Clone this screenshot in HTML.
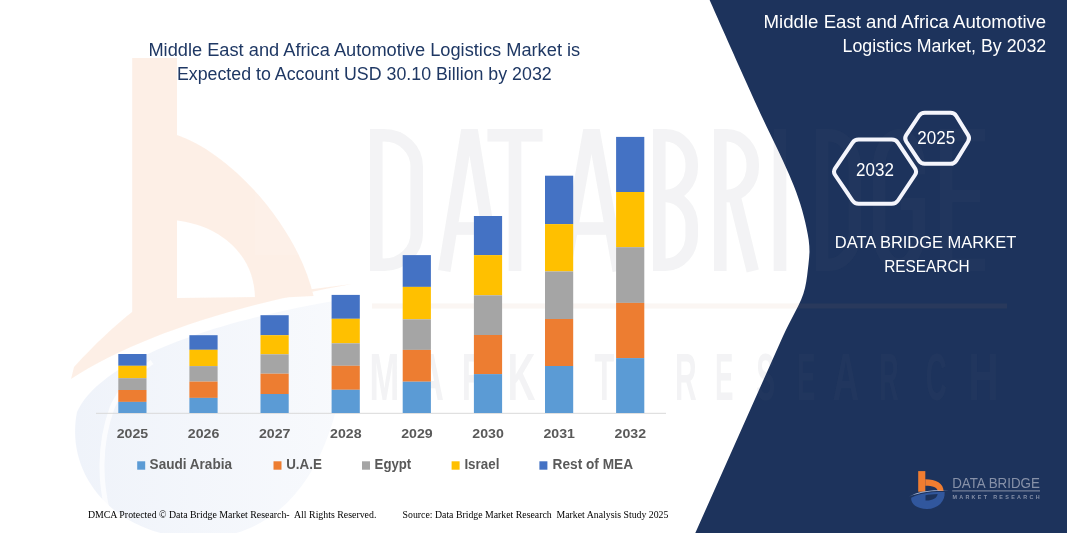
<!DOCTYPE html>
<html><head><meta charset="utf-8"><title>chart</title>
<style>
html,body{margin:0;padding:0;background:#fff;}
body{width:1067px;height:533px;overflow:hidden;font-family:"Liberation Sans",sans-serif;}
svg{display:block}
text{font-family:"Liberation Sans",sans-serif;}
.serif{font-family:"Liberation Serif",serif;}
</style></head><body>
<svg width="1067" height="533" viewBox="0 0 1067 533">
<defs>
<linearGradient id="wmblue" x1="0" y1="0" x2="1" y2="0"><stop offset="0" stop-color="#4472c4" stop-opacity="1"/><stop offset="0.35" stop-color="#4472c4" stop-opacity="0.8"/><stop offset="1" stop-color="#4472c4" stop-opacity="0.45"/></linearGradient>
<g id="bmark">
<rect x="8.2" y="1.1" width="7.1" height="20.6" fill="#f07d31"/>
<path d="M15.3 9.2 C 26 9.2 33.6 13.5 33.6 21 L27.6 21 C 27.6 17.5 22.5 15.7 15.3 15.7 Z" fill="#f07d31"/>
<path d="M-0.6 26.6 C 8 21 22 19.2 38.8 20.6 C 22 20.6 9 22.6 -0.6 26.6 Z" fill="#a9b7d6"/>
<path d="M1.2 27.8 C 8 23.6 20 21.8 34.6 22 C 35.5 31 28 39 17 39 C 7 39 0.5 34 1.2 27.8 Z M15.5 25.2 L15.5 30.5 C 22 30.8 27 28.5 27.6 24 C 23 24.2 19 24.6 15.5 25.2 Z" fill="#31579d" fill-rule="evenodd"/>
</g>
</defs>
<rect width="1067" height="533" fill="#ffffff"/>
<!-- WATERMARK-LEFT -->
<!-- navy panel -->
<path id="navy" d="M709.6 0 L712.3 6 L714.9 12 L717.6 18 L720.2 24 L722.9 30 L725.6 36 L728.2 42 L730.9 48 L733.6 54 L736.2 60 L738.9 66 L741.6 72 L744.3 78 L747.0 84 L749.7 90 L752.4 96 L755.1 102 L757.9 108 L760.6 114 L763.5 120 L766.3 126 L769.2 132 L772.1 138 L775.0 144 L777.9 150 L780.7 156 L783.5 162 L786.2 168 L788.9 174 L791.4 180 L793.9 186 L796.2 192 L798.3 198 L800.3 204 L802.1 210 L803.7 216 L805.2 222 L806.5 228 L807.7 234 L808.7 240 L809.3 246 L809.5 252 L809.1 258 L808.5 264 L807.8 270 L807.1 276 L806.2 282 L805.0 288 L803.3 294 L801.0 300 L798.2 306 L795.1 312 L792.0 318 L788.9 324 L785.9 330 L783.1 336 L781.3 340 L695.3 533 L1067 533 L1067 0 Z" fill="#1d335c"/>
<!-- WM-START -->
<g opacity="0.115" fill="#f07d31">
<path d="M132.2 58 H177 V312 L132.2 330 Z"/>
<path d="M177 135 C 228 152 296 222 313.6 296 L255 299 C 255 256 222 226 177 220.5 Z"/>
<path d="M71 379 L74 367 C 95 344 114 326 134.6 310 L177 298 L255 297 L313 289 L352 284 C 235 305 135 337 71 379 Z"/>
</g>
<g opacity="0.085">
<path d="M77 412 C 100 360 215 320 346 299 C 352 430 302 538 200 538 C 118 538 64 478 77 412 Z" fill="url(#wmblue)"/>
</g>
<path d="M110 520 C 99 484 99 444 112 408 C 120 389 136 373 152 362" stroke="#ffffff" stroke-width="5" fill="none" opacity="0.75"/>
<g opacity="0.075" fill="#5f6675" stroke="#5f6675">
<g fill="none" stroke-width="12.5" stroke-linejoin="miter" stroke-miterlimit="6">
<path d="M376.25 135.25 H384.4 A32.4 31.4 0 0 1 416.75 166.6 V233.4 A32.4 31.4 0 0 1 384.4 264.75 H376.25 Z"/>
<path d="M444.25 271 L466.5 135.25 L472.5 135.25 L494.75 271 M451.2 228.4 H487.8"/>
<path d="M487.5 135.25 H542.5 M515.0 135.25 V271"/>
<path d="M564.25 271 L588.5 135.25 L594.5 135.25 L618.75 271 M571.9 228.4 H611.1"/>
<path d="M659.25 196.0 V135.25 H665.8 A26.0 29.4 0 0 1 691.75 164.6 V166.6 A26.0 29.4 0 0 1 665.8 196.0 H659.25 V264.75 H665.8 A26.0 29.4 0 0 0 691.75 235.4 V225.4 A26.0 29.4 0 0 0 665.8 196.0"/>
<path d="M720.25 271 V135.25 H726.8 A26.0 29.4 0 0 1 752.75 164.6 V166.6 A26.0 29.4 0 0 1 726.8 196.0 H720.25 M734.5 196.0 L752.75 271"/>
<path d="M780.0 129 V271"/>
<path d="M822.25 135.25 H828.8 A26.0 31.4 0 0 1 854.75 166.6 V233.4 A26.0 31.4 0 0 1 828.8 264.75 H822.25 Z"/>
<path d="M918.75 174.6 V166.6 A19.8 31.4 0 0 0 899.0 135.25 A19.8 31.4 0 0 0 879.25 166.6 V233.4 A19.8 31.4 0 0 0 899.0 264.75 A19.8 31.4 0 0 0 918.75 233.4 V204.0 H901.0"/>
<path d="M985 135.25 H946.25 V264.75 H985 M946.25 196.0 H980"/>
</g>
<rect x="372" y="303.5" width="635" height="5" fill="#c98a5a" stroke="none"/>
<g stroke="none">
<text transform="translate(369.6,399.5) scale(3.577,6.6)" font-size="10" font-weight="700">M</text>
<text transform="translate(417.1,399.5) scale(3.726,6.6)" font-size="10" font-weight="700">A</text>
<text transform="translate(461.8,399.5) scale(3.312,6.6)" font-size="10" font-weight="700">R</text>
<text transform="translate(507.4,399.5) scale(3.876,6.6)" font-size="10" font-weight="700">K</text>
<text transform="translate(554.0,399.5) scale(3.030,6.6)" font-size="10" font-weight="700">E</text>
<text transform="translate(594.6,399.5) scale(3.226,6.6)" font-size="10" font-weight="700">T</text>
<text transform="translate(675.0,399.5) scale(2.997,6.6)" font-size="10" font-weight="700">R</text>
<text transform="translate(715.1,399.5) scale(2.763,6.6)" font-size="10" font-weight="700">E</text>
<text transform="translate(756.2,399.5) scale(2.838,6.6)" font-size="10" font-weight="700">S</text>
<text transform="translate(797.1,399.5) scale(2.763,6.6)" font-size="10" font-weight="700">E</text>
<text transform="translate(832.7,399.5) scale(3.636,6.6)" font-size="10" font-weight="700">A</text>
<text transform="translate(879.2,399.5) scale(2.681,6.6)" font-size="10" font-weight="700">R</text>
<text transform="translate(925.8,399.5) scale(2.905,6.6)" font-size="10" font-weight="700">C</text>
<text transform="translate(968.2,399.5) scale(4.201,6.6)" font-size="10" font-weight="700">H</text>
</g>
</g>
<!-- WM-END -->
<!-- axis -->
<rect x="96" y="412.8" width="570" height="1" fill="#d9d9d9"/>
<g>
<rect x="118.3" y="354.0" width="28.2" height="11.8" fill="#4472c4"/>
<rect x="118.3" y="365.8" width="28.2" height="12.4" fill="#ffc000"/>
<rect x="118.3" y="378.2" width="28.2" height="11.8" fill="#a5a5a5"/>
<rect x="118.3" y="390.0" width="28.2" height="11.9" fill="#ed7d31"/>
<rect x="118.3" y="401.9" width="28.2" height="11.1" fill="#5b9bd5"/>
<rect x="189.4" y="335.2" width="28.2" height="14.6" fill="#4472c4"/>
<rect x="189.4" y="349.8" width="28.2" height="16.3" fill="#ffc000"/>
<rect x="189.4" y="366.1" width="28.2" height="15.5" fill="#a5a5a5"/>
<rect x="189.4" y="381.6" width="28.2" height="16.3" fill="#ed7d31"/>
<rect x="189.4" y="397.9" width="28.2" height="15.1" fill="#5b9bd5"/>
<rect x="260.5" y="315.2" width="28.2" height="20.0" fill="#4472c4"/>
<rect x="260.5" y="335.2" width="28.2" height="19.1" fill="#ffc000"/>
<rect x="260.5" y="354.3" width="28.2" height="19.4" fill="#a5a5a5"/>
<rect x="260.5" y="373.7" width="28.2" height="20.3" fill="#ed7d31"/>
<rect x="260.5" y="394.0" width="28.2" height="19.0" fill="#5b9bd5"/>
<rect x="331.6" y="294.9" width="28.2" height="23.9" fill="#4472c4"/>
<rect x="331.6" y="318.8" width="28.2" height="24.5" fill="#ffc000"/>
<rect x="331.6" y="343.3" width="28.2" height="22.5" fill="#a5a5a5"/>
<rect x="331.6" y="365.8" width="28.2" height="24.0" fill="#ed7d31"/>
<rect x="331.6" y="389.8" width="28.2" height="23.2" fill="#5b9bd5"/>
<rect x="402.7" y="255.1" width="28.2" height="31.8" fill="#4472c4"/>
<rect x="402.7" y="286.9" width="28.2" height="32.4" fill="#ffc000"/>
<rect x="402.7" y="319.3" width="28.2" height="30.6" fill="#a5a5a5"/>
<rect x="402.7" y="349.9" width="28.2" height="31.8" fill="#ed7d31"/>
<rect x="402.7" y="381.7" width="28.2" height="31.3" fill="#5b9bd5"/>
<rect x="473.9" y="216.0" width="28.2" height="39.1" fill="#4472c4"/>
<rect x="473.9" y="255.1" width="28.2" height="40.2" fill="#ffc000"/>
<rect x="473.9" y="295.3" width="28.2" height="39.7" fill="#a5a5a5"/>
<rect x="473.9" y="335.0" width="28.2" height="39.1" fill="#ed7d31"/>
<rect x="473.9" y="374.1" width="28.2" height="38.9" fill="#5b9bd5"/>
<rect x="545.0" y="175.7" width="28.2" height="48.4" fill="#4472c4"/>
<rect x="545.0" y="224.1" width="28.2" height="47.3" fill="#ffc000"/>
<rect x="545.0" y="271.4" width="28.2" height="47.6" fill="#a5a5a5"/>
<rect x="545.0" y="319.0" width="28.2" height="47.0" fill="#ed7d31"/>
<rect x="545.0" y="366.0" width="28.2" height="47.0" fill="#5b9bd5"/>
<rect x="616.1" y="136.9" width="28.2" height="55.1" fill="#4472c4"/>
<rect x="616.1" y="192.0" width="28.2" height="55.2" fill="#ffc000"/>
<rect x="616.1" y="247.2" width="28.2" height="55.7" fill="#a5a5a5"/>
<rect x="616.1" y="302.9" width="28.2" height="55.2" fill="#ed7d31"/>
<rect x="616.1" y="358.1" width="28.2" height="54.9" fill="#5b9bd5"/>
</g>
<g font-size="13.5" font-weight="700" fill="#595959">
<text x="132.5" y="438.4" text-anchor="middle" textLength="31.5" lengthAdjust="spacingAndGlyphs">2025</text>
<text x="203.6" y="438.4" text-anchor="middle" textLength="31.5" lengthAdjust="spacingAndGlyphs">2026</text>
<text x="274.7" y="438.4" text-anchor="middle" textLength="31.5" lengthAdjust="spacingAndGlyphs">2027</text>
<text x="345.8" y="438.4" text-anchor="middle" textLength="31.5" lengthAdjust="spacingAndGlyphs">2028</text>
<text x="416.9" y="438.4" text-anchor="middle" textLength="31.5" lengthAdjust="spacingAndGlyphs">2029</text>
<text x="488.1" y="438.4" text-anchor="middle" textLength="31.5" lengthAdjust="spacingAndGlyphs">2030</text>
<text x="559.2" y="438.4" text-anchor="middle" textLength="31.5" lengthAdjust="spacingAndGlyphs">2031</text>
<text x="630.3" y="438.4" text-anchor="middle" textLength="31.5" lengthAdjust="spacingAndGlyphs">2032</text>
</g>
<g font-size="14" font-weight="700" fill="#595959">
<rect x="137.2" y="461.3" width="8" height="8.4" fill="#5b9bd5"/>
<text x="149.6" y="469.1" textLength="82.4" lengthAdjust="spacingAndGlyphs">Saudi Arabia</text>
<rect x="273.5" y="461.3" width="8" height="8.4" fill="#ed7d31"/>
<text x="286.2" y="469.1" textLength="35.7" lengthAdjust="spacingAndGlyphs">U.A.E</text>
<rect x="362.0" y="461.3" width="8" height="8.4" fill="#a5a5a5"/>
<text x="374.6" y="469.1" textLength="36.6" lengthAdjust="spacingAndGlyphs">Egypt</text>
<rect x="451.6" y="461.3" width="8" height="8.4" fill="#ffc000"/>
<text x="464.4" y="469.1" textLength="35.0" lengthAdjust="spacingAndGlyphs">Israel</text>
<rect x="539.4" y="461.3" width="8" height="8.4" fill="#4472c4"/>
<text x="552.6" y="469.1" textLength="80.4" lengthAdjust="spacingAndGlyphs">Rest of MEA</text>
</g>
<!-- titles -->
<g font-size="17.5" fill="#1f3864">
<text x="148.4" y="56.1" textLength="431.8" lengthAdjust="spacingAndGlyphs">Middle East and Africa Automotive Logistics Market is</text>
<text x="176.9" y="80.4" textLength="374.8" lengthAdjust="spacingAndGlyphs">Expected to Account USD 30.10 Billion by 2032</text>
</g>
<g font-size="17.5" fill="#ffffff">
<text x="763.6" y="27.6" textLength="282.6" lengthAdjust="spacingAndGlyphs">Middle East and Africa Automotive</text>
<text x="842.6" y="52" textLength="203.6" lengthAdjust="spacingAndGlyphs">Logistics Market, By 2032</text>
</g>
<g font-size="17" fill="#ffffff">
<text x="834.8" y="247.6" textLength="181.4" lengthAdjust="spacingAndGlyphs">DATA BRIDGE MARKET</text>
<text x="884.2" y="271.6" textLength="85.4" lengthAdjust="spacingAndGlyphs">RESEARCH</text>
</g>
<!-- hexagons -->
<g fill="none" stroke="#f4f5fc" stroke-width="4" stroke-linejoin="round">
<path d="M835.1 175.0 Q832.9 171.7 835.1 168.4 L852.4 142.9 Q854.6 139.6 858.6 139.6 L891.8 139.6 Q895.8 139.6 898.0 142.9 L915.0 168.4 Q917.2 171.7 915.0 175.0 L898.0 200.5 Q895.8 203.8 891.8 203.8 L858.6 203.8 Q854.6 203.8 852.4 200.5 Z"/>
<path d="M906.2 141.5 Q904.1 138.3 906.2 135.1 L918.9 116.0 Q921.0 112.8 924.8 112.8 L950.5 112.8 Q954.3 112.8 956.3 116.0 L968.1 135.1 Q970.1 138.3 968.1 141.5 L956.3 160.6 Q954.3 163.8 950.5 163.8 L924.8 163.8 Q921.0 163.8 918.9 160.6 Z"/>
</g>
<g font-size="17.5" fill="#ffffff" text-anchor="middle">
<text x="875" y="175.9" textLength="37.8" lengthAdjust="spacingAndGlyphs">2032</text>
<text x="936.2" y="143.8" textLength="37.8" lengthAdjust="spacingAndGlyphs">2025</text>
</g>
<!-- footer -->
<g class="serif" font-size="9.7" fill="#000000">
<text class="serif" x="87.9" y="518.1" textLength="288.5" lengthAdjust="spacingAndGlyphs">DMCA Protected © Data Bridge Market Research-&#160; All Rights Reserved.</text>
<text class="serif" x="402.6" y="518.1" textLength="265.8" lengthAdjust="spacingAndGlyphs">Source: Data Bridge Market Research&#160; Market Analysis Study 2025</text>
</g>
<g transform="translate(910,470)">
<use href="#bmark"/>
<text x="42.2" y="17.7" font-size="14.5" fill="#8791a8" textLength="87.6" lengthAdjust="spacingAndGlyphs">DATA BRIDGE</text>
<rect x="42.2" y="20.4" width="87.8" height="1" fill="#8791a8"/>
<text x="42.4" y="28.8" font-size="5.4" font-weight="700" fill="#8791a8" textLength="87.2" lengthAdjust="spacing">MARKET RESEARCH</text>
</g>
</svg>
</body></html>
